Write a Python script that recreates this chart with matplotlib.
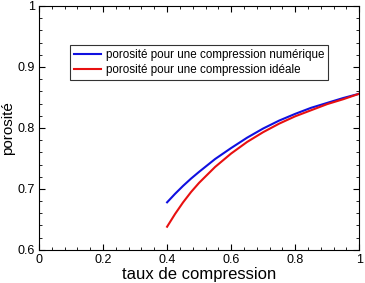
import matplotlib
matplotlib.use("Agg")
import matplotlib.pyplot as plt
from matplotlib.ticker import AutoMinorLocator

plt.rcParams['font.family'] = ['Liberation Sans', 'DejaVu Sans']

taux = [0.40, 0.425, 0.45, 0.475, 0.50, 0.55, 0.60, 0.65, 0.70, 0.75, 0.80, 0.85, 0.90, 0.95, 1.00]
poro_num = [0.678, 0.692, 0.705, 0.717, 0.728, 0.749, 0.767, 0.784, 0.799, 0.812, 0.823, 0.833, 0.841, 0.849, 0.856]
poro_ideal = [0.638, 0.659, 0.678, 0.695, 0.710, 0.736, 0.758, 0.777, 0.793, 0.807, 0.819, 0.829, 0.839, 0.847, 0.856]

fig = plt.figure(figsize=(3.65, 2.83), dpi=100)
ax = fig.add_axes([0.107, 0.117, 0.877, 0.862])

ax.plot(taux, poro_num, color='#1010e0', lw=1.5, label='porosité pour une compression numérique')
ax.plot(taux, poro_ideal, color='#e81010', lw=1.5, label='porosité pour une compression idéale')

ax.set_xlim(0, 1)
ax.set_ylim(0.6, 1)
ax.set_xticks([0, 0.2, 0.4, 0.6, 0.8, 1])
ax.set_xticklabels(['0', '0.2', '0.4', '0.6', '0.8', '1'])
ax.set_yticks([0.6, 0.7, 0.8, 0.9, 1])
ax.set_yticklabels(['0.6', '0.7', '0.8', '0.9', '1'])
ax.xaxis.set_minor_locator(AutoMinorLocator(5))
ax.yaxis.set_minor_locator(AutoMinorLocator(5))
ax.tick_params(which='both', direction='in', top=True, right=True, labelsize=9, pad=3)
ax.tick_params(which='major', length=4)
ax.tick_params(which='minor', length=2)

ax.set_xlabel('taux de compression', fontsize=12, labelpad=1)
ax.set_ylabel('porosité', fontsize=11, labelpad=2)

leg = ax.legend(loc='upper left', bbox_to_anchor=(0.097, 0.84), fontsize=8.4,
                frameon=True, fancybox=False, edgecolor='black', handlelength=2.3,
                borderpad=0.35, labelspacing=0.25, handletextpad=0.4, borderaxespad=0)
leg.get_frame().set_linewidth(0.8)

fig.savefig('out.png', dpi=100)
